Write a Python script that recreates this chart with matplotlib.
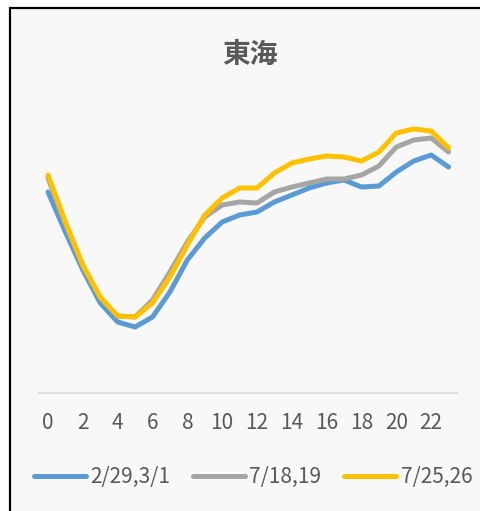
import numpy as np
import matplotlib.pyplot as plt
from matplotlib.patches import Rectangle

plt.rcParams['font.family'] = ['Noto Sans CJK JP', 'DejaVu Sans']

hours = list(range(24))
# values (arbitrary units, 0 = axis baseline)
s_0229 = [201, 161, 123, 90, 71, 66, 76, 101, 133, 155, 171, 178, 181, 191, 198, 205, 210, 213, 206, 207, 221, 232, 238, 226]
s_0718 = [215, 169, 127, 95, 77, 76, 93, 121, 151, 176, 188, 191, 190, 201, 206, 210, 214, 214, 218, 227, 246, 253, 255, 241]
s_0725 = [218, 171, 128, 96, 77, 76, 90, 116, 148, 178, 195, 205, 205, 220, 230, 234, 237, 236, 232, 241, 260, 264, 262, 245]
labels = ['2/29,3/1', '7/18,19', '7/25,26']
colors = ['#5b9bd5', '#a5a5a5', '#ffc000']

W, H = 481, 511
fig = plt.figure(figsize=(W/100, H/100), dpi=100)
fig.patch.set_facecolor('white')
fig.patches.append(Rectangle((10/W, -0.1), 1.2, 1 - 8/H + 0.1, transform=fig.transFigure,
                             facecolor='#f8f8f8', edgecolor='black', linewidth=1.6, zorder=-5))

ax = fig.add_axes([39.3/W, (H-393)/H, 418/W, 293/H])
ax.set_facecolor('none')
ax.set_zorder(2)
for s, lab, c in zip([s_0229, s_0718, s_0725], labels, colors):
    ax.plot(hours, s, color=c, lw=3.6, solid_capstyle='round', solid_joinstyle='round', label=lab)

ax.set_xlim(-0.5, 23.5)
ax.set_ylim(0, 293)
ax.set_yticks([])
ax.set_xticks(hours[::2])
ax.tick_params(axis='x', length=0, pad=14, labelsize=15, labelcolor='#595959')
for sp in ['left', 'right', 'top']:
    ax.spines[sp].set_visible(False)
ax.spines['bottom'].set_color('#d9d9d9')
ax.spines['bottom'].set_linewidth(1.2)

fig.text(250/W, 1 - 55/H, '東海', ha='center', va='center', fontsize=20, fontweight='bold', color='#595959')

leg = fig.legend(loc='center', bbox_to_anchor=(253/W, 1 - 477/H), ncol=3, frameon=False,
                 fontsize=15, handlelength=2.5, handletextpad=0.2, columnspacing=1.1)
for t in leg.get_texts():
    t.set_color('#595959')
for h in leg.get_lines():
    h.set_linewidth(3.6)

fig.savefig('out.png', dpi=100, facecolor=fig.get_facecolor())
